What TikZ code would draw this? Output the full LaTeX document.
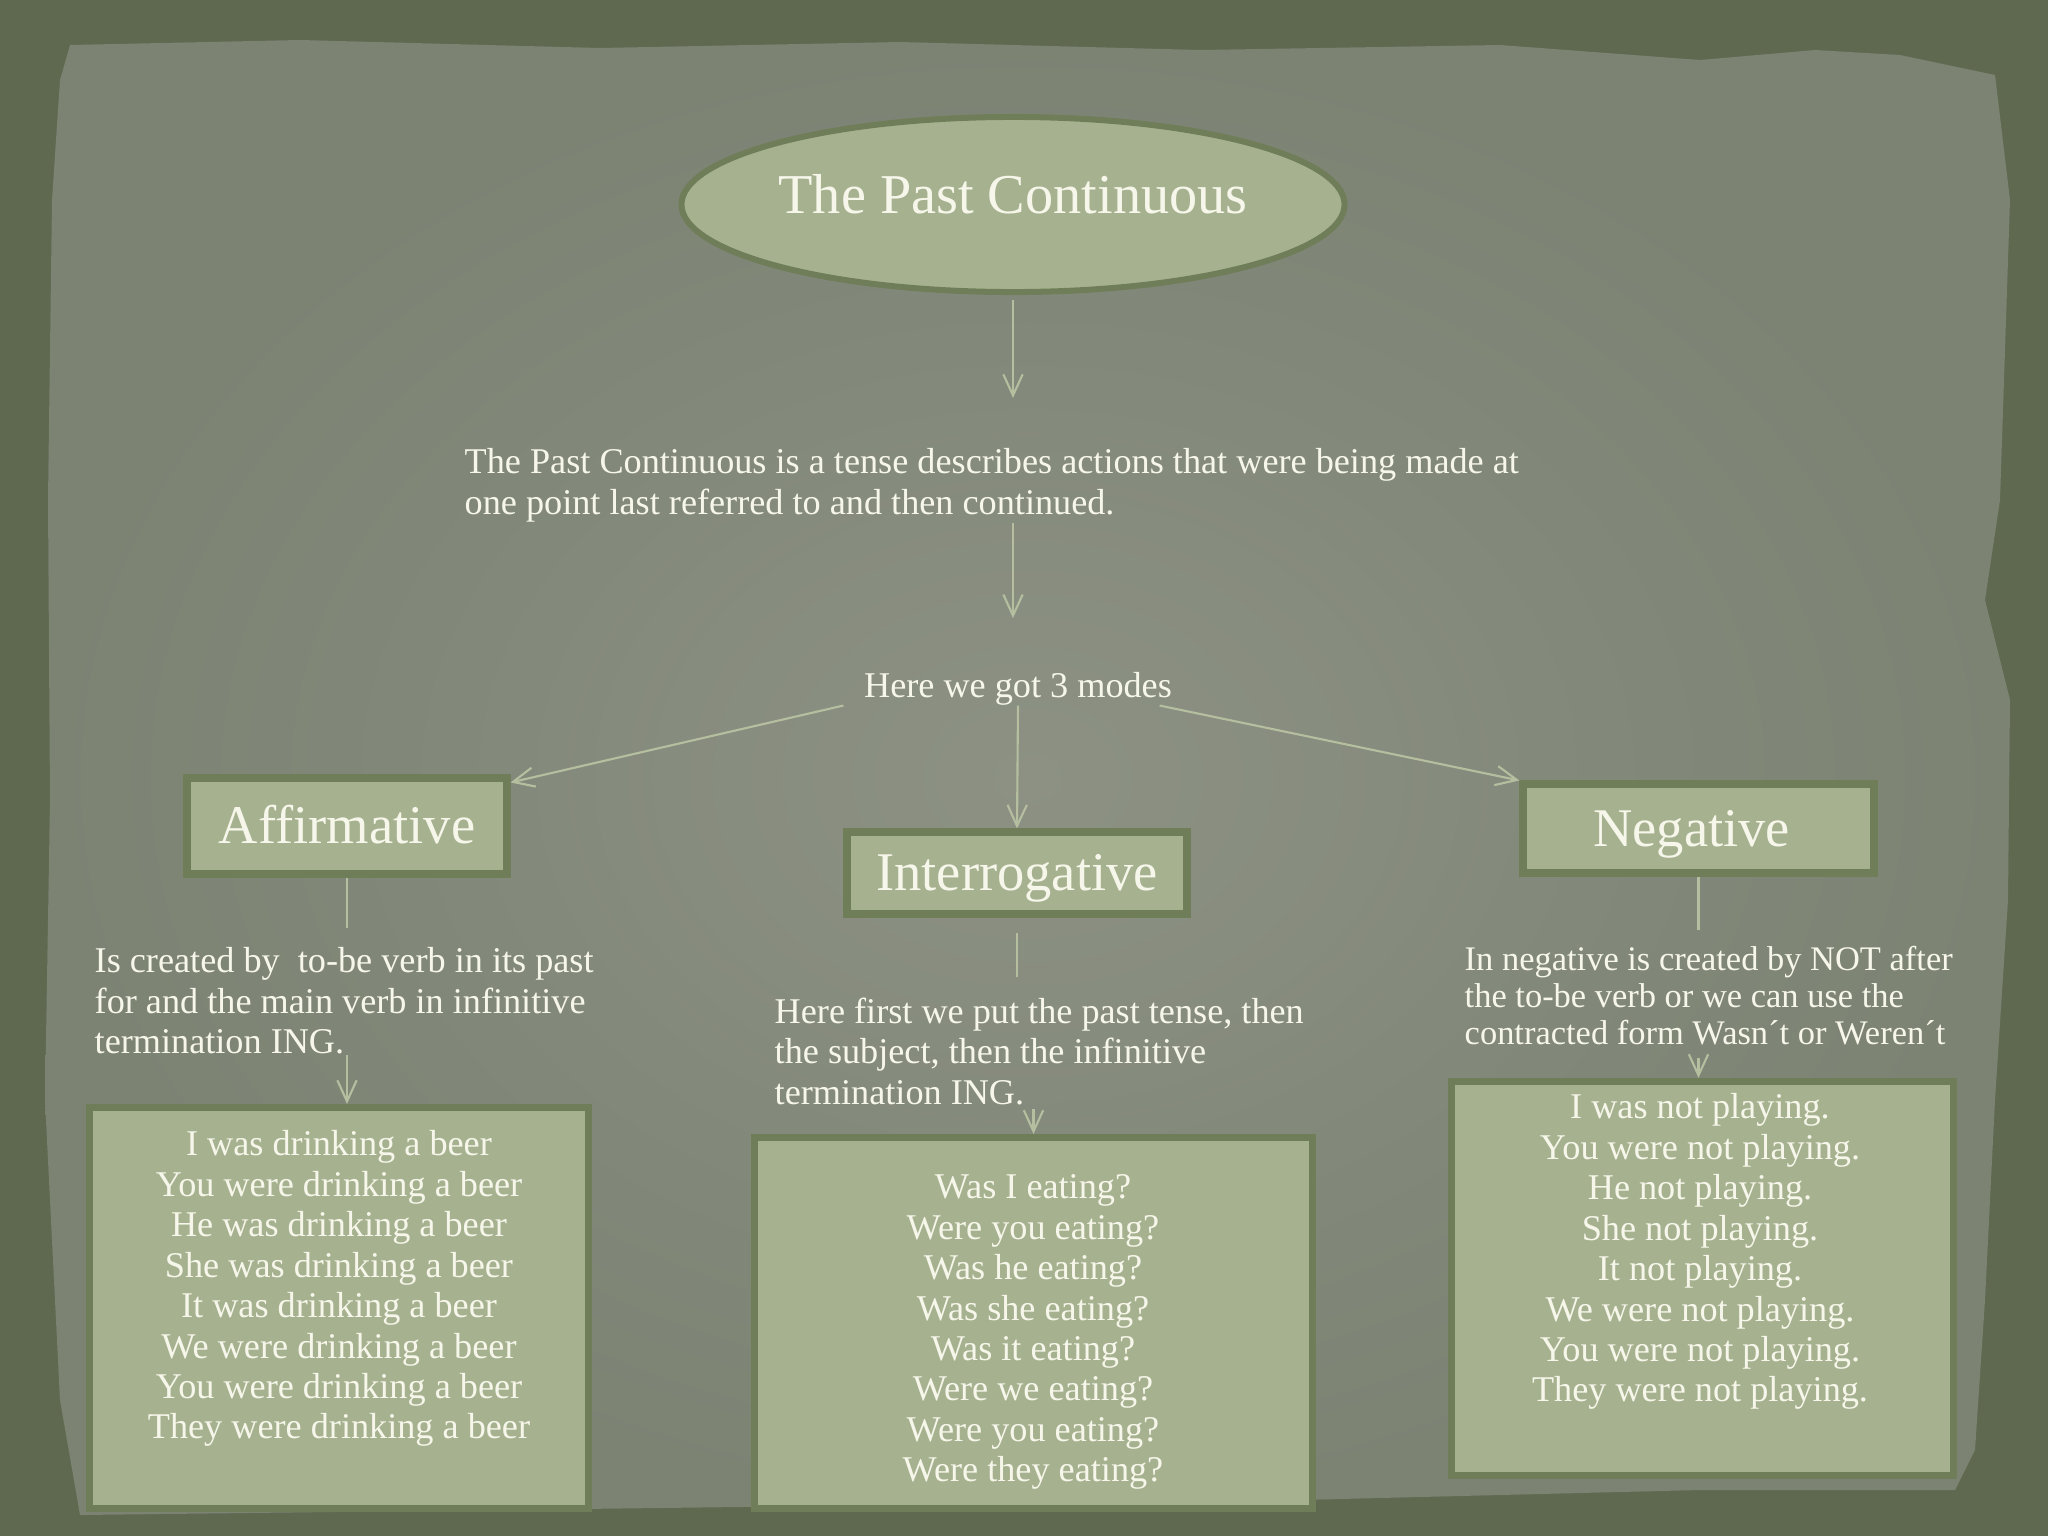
\documentclass[tikz,border=0pt]{standalone}
\usepackage{fontspec}
\setmainfont{Liberation Serif}
\definecolor{framegreen}{RGB}{94,105,80}
\definecolor{paperdark}{RGB}{124,131,115}
\definecolor{paperlight}{RGB}{140,145,132}
\definecolor{sage}{RGB}{166,178,143}
\definecolor{sagedark}{RGB}{112,125,89}
\definecolor{linesage}{RGB}{181,191,160}
\definecolor{chalk}{RGB}{246,246,234}
\usetikzlibrary{arrows.meta,positioning,shapes.geometric,calc}

\begin{document}
\begin{tikzpicture}[x=0.01cm, y=-0.01cm,
          every node/.style={align=center, text=chalk, inner sep=0pt},
          txt/.style={font=\fontsize{10.3}{11.5}\selectfont},
          modebox/.style={draw=sagedark, fill=sage, line width=0.08cm,
                          text height=11pt, text depth=1pt,
                          font=\fontsize{15.5}{18}\selectfont},
          exbox/.style={draw=sagedark, fill=sage, line width=0.07cm},
          arr/.style={draw=linesage, line width=0.6pt,
                      -{Straight Barb[length=6pt,width=5.5pt]}},
          link/.style={draw=linesage, line width=0.6pt}]
  % frame and torn paper
  \fill[framegreen] (0,0) rectangle (2048,1536);
  \useasboundingbox (0,0) rectangle (2048,1536);
  \shade[inner color=paperlight, outer color=paperdark]
    (70,45) -- (300,40) -- (600,48) -- (900,42) -- (1200,50) -- (1500,45)
    -- (1700,60) -- (1815,50) -- (1900,55) -- (1995,75) -- (2010,200)
    -- (2000,500) -- (1985,600) -- (2010,700) -- (2008,900) -- (1995,1100)
    -- (1985,1300) -- (1975,1450) -- (1955,1490) -- (1700,1490)
    -- (1300,1500) -- (900,1505) -- (500,1510) -- (80,1515) -- (60,1400)
    -- (45,1100) -- (50,800) -- (48,500) -- (52,200) -- (60,80) -- cycle;

  % title and definition
  \node[ellipse, draw=sagedark, fill=sage, line width=0.06cm,
        minimum width=6.48cm, minimum height=1.75cm,
        text height=11pt, text depth=6pt,
        font=\fontsize{16}{19}\selectfont] (title) at (1013,204.5)
    {The Past Continuous};
  \node[txt, anchor=north west, align=left] (def) at (464,448)
    {The Past Continuous is a tense describes actions that were being made at\\
     one point last referred to and then continued.};
  \node[txt, anchor=base] (modes) at (1018,697) {Here we got 3 modes};

  % the three modes
  \foreach \nm/\x/\y/\w/\h/\lbl in {
    affmode/347/826/3.19/0.95/Affirmative,
    intmode/1017/873/3.39/0.81/Interrogative,
    negmode/1698.5/828.5/3.50/0.88/Negative
  }{
    \node[modebox, minimum width=\w cm, minimum height=\h cm] (\nm)
      at (\x,\y) {\lbl};
  }

  \node[txt, anchor=north west, align=left] (affdesc) at (94,947)
    {Is created by~ to-be verb in its past\\
     for and the main verb in infinitive\\
     termination ING.};
  \node[txt, anchor=north west, align=left] (intdesc) at (774,997)
    {Here first we put the past tense, then\\
     the subject, then the infinitive\\
     termination ING.};
  \node[txt, anchor=north west, align=left,
        font=\fontsize{9.8}{10.5}\selectfont] (negdesc) at (1464,946)
    {In negative is created by NOT after\\
     the to-be verb or we can use the\\
     contracted form Wasn´t or Weren´t};

  % example boxes
  \node[exbox, minimum width=4.99cm, minimum height=4.01cm] (affex)
    at (339,1308) {};
  \node[exbox, minimum width=5.58cm, minimum height=3.71cm] (intex)
    at (1033.5,1323) {};
  \node[exbox, minimum width=5.02cm, minimum height=3.94cm] (negex)
    at (1702.5,1278.5) {};

  \node[txt, anchor=north] (afftxt) at (339,1130)
    {I was drinking a beer\\ You were drinking a beer\\
     He was drinking a beer\\ She was drinking a beer\\
     It was drinking a beer\\ We were drinking a beer\\
     You were drinking a beer\\ They were drinking a beer};
  \node[txt, anchor=north] (inttxt) at (1033,1174)
    {Was I eating?\\ Were you eating?\\ Was he eating?\\ Was she eating?\\
     Was it eating?\\ Were we eating?\\ Were you eating?\\ Were they eating?};
  \node[txt, anchor=north] (negtxt) at (1700,1093)
    {I was not playing.\\ You were not playing.\\ He not playing.\\
     She not playing.\\ It not playing.\\ We were not playing.\\
     You were not playing.\\ They were not playing.};

  % connectors
  \draw[arr, shorten <=0.05cm, shorten >=0.5cm]
    (title.south) -- (title.south |- def.north);
  \draw[arr, shorten >=0.53cm]
    (title.south |- def.south) -- (title.south |- modes.north);
  \draw[arr] ([xshift=-0.2cm]modes.south west) -- ([yshift=-0.08cm]affmode.north east);
  \draw[arr] (modes.south) -- (intmode.north);
  \draw[arr] ([xshift=-0.13cm]modes.south east) -- (negmode.north west);

  \draw[link, shorten >=0.19cm] (affmode.south) -- (affmode.south |- affdesc.north);
  \draw[link, shorten <=0.15cm, shorten >=0.2cm]
    (intmode.south) -- (intmode.south |- intdesc.north);
  \draw[link, shorten >=0.16cm] (negmode.south) -- (negmode.south |- negdesc.north);

  \draw[arr] (affmode.south |- affdesc.south) -- (affmode.south |- affex.north);
  \draw[arr, shorten <=0.04cm] (intex.north |- intdesc.south) -- (intex.north);
  \draw[arr, shorten <=0.12cm] (negmode.south |- negdesc.south) -- (negmode.south |- negex.north);
\end{tikzpicture}
\end{document}
